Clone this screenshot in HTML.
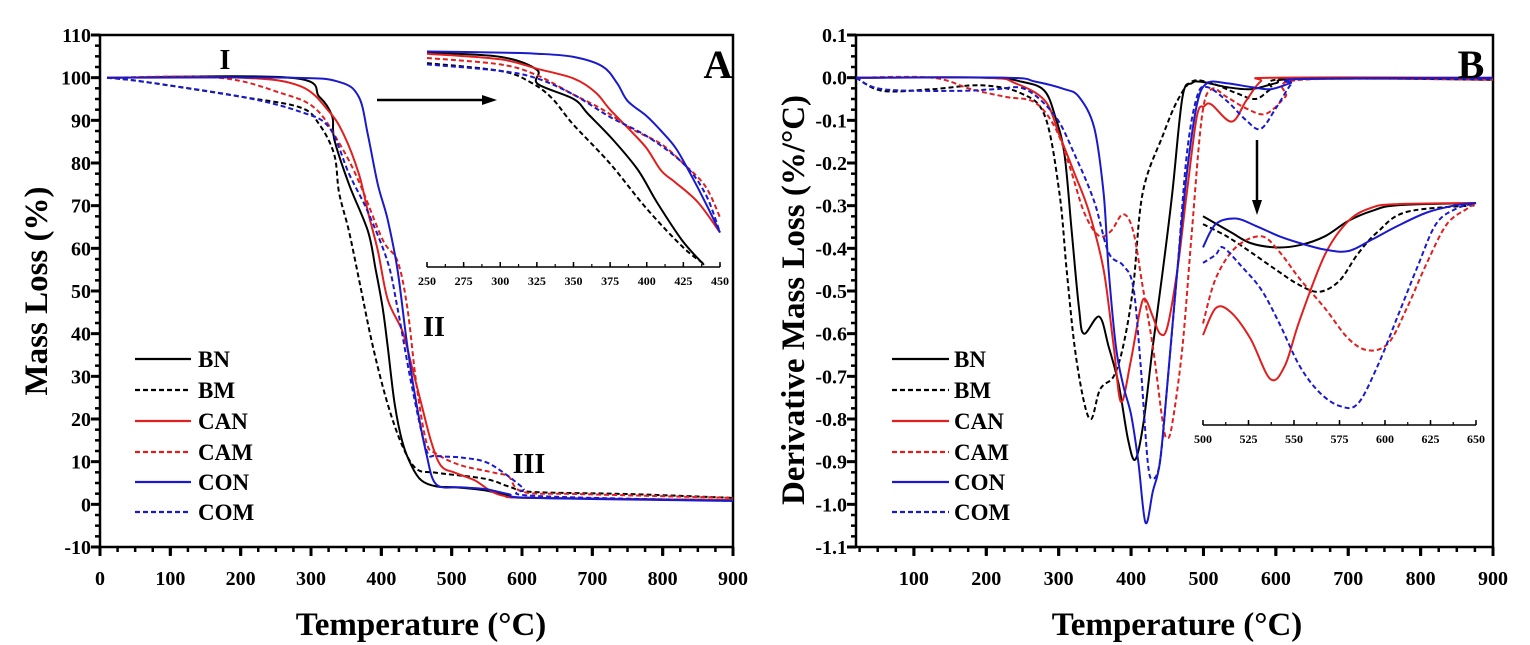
<!DOCTYPE html>
<html><head><meta charset="utf-8"><style>
html,body{margin:0;padding:0;background:#fff;}
svg{display:block;font-family:"Liberation Serif",serif;font-weight:bold;}
</style></head><body>
<svg id="fig" width="1530" height="645" viewBox="0 0 1530 645" xmlns="http://www.w3.org/2000/svg"></svg>
<script>
// ---------- Panel A data (Temperature °C, Mass %) ----------
const aBN_T=[10,271,312,330,333,354,381,392,402,409,419,430,443,457,478,505,547,581,616,900];
const aBN_V=[100,100,95.5,91,85.6,75,64,55,46,37,23.5,14.6,9,5.6,4.2,4,3.3,2,1.5,1];
const aBM_T=[10,64,202,285,312,333,340,354,371,388,409,430,450,478,547,581,616,754,900];
const aBM_V=[100,99,95.5,93,89,82,73,64,50.5,37,23.5,13.7,8.3,7.4,6,4.2,2.9,2.4,1.5];
const aCAN_T=[10,202,285,326,347,368,381,395,409,430,443,457,471,485,505,533,554,574,616,900];
const aCAN_V=[100,100,98,92,86.5,77.5,68.5,59.5,48,40.6,32.5,23.5,14.6,9,7.4,5.6,3.3,2,1.5,1];
const aCAM_T=[10,168,257,306,340,368,402,423,437,450,464,478,512,561,581,602,685,900];
const aCAM_V=[100,100,96.4,92.8,84.7,75.7,62,57,46,28,14.6,11.9,9.2,7.4,6.5,2.9,2.4,1.5];
const aCON_T=[10,271,340,368,381,395,409,423,437,450,464,478,512,547,581,616,900];
const aCON_V=[100,100,99,95.5,86.5,75,66.7,55,37,23.5,11.9,4.7,4,3.6,2.4,1.5,0.8];
const aCOM_T=[10,64,202,285,326,354,381,409,423,443,464,478,512,547,574,602,616,900];
const aCOM_V=[100,99,95.5,92,88.3,77.5,68.5,56.8,46,28,12.8,11.4,11,10,7.4,3.8,2,0.8];
const aTicksX=[0,100,200,300,400,500,600,700,800,900];
const aTicksY=[-10,0,10,20,30,40,50,60,70,80,90,100,110];
// Inset A (relative scale 0..100)
const iaBN_T=[250,300,325,325.5,350,360,377,394,407,424,439];
const iaBN_V=[99.5,97.5,91.5,85,78,71,59,45,30,12.5,1];
const iaBM_T=[250,300,320,335,350,375,400,425,440];
const iaBM_V=[94.6,91,86,78.5,66,48,27,9,1];
const iaCAN_T=[250,300,325,350,365,375,390,400,410,420,435,450];
const iaCAN_V=[99,96.4,92,87.5,81,73,62.5,55,44.6,39,30,16];
const iaCAM_T=[250,300,325,350,370,390,410,425,440,450];
const iaCAM_V=[97,94,89,80,73,64,57,48,37.5,23];
const iaCON_T=[250,300,325,350,370,380,387,400,410,420,430,440,450];
const iaCON_V=[100,99.5,99,97.5,93,85,77,70,63,55,43,30,16];
const iaCOM_T=[250,300,325,350,375,400,425,440,450];
const iaCOM_V=[94,91,87.5,80,69.6,60.7,48,34,16];
const iaTicks=[250,275,300,325,350,375,400,425,450];
// ---------- Panel B data (Temperature °C, DTG %/°C) ----------
const bBN_T=[20,200,250,280,295,308,318,328,335,356,369,383,396,406,417,430,444,457,471,484,498,532,566,600,634,900];
const bBN_V=[0,0,-0.01,-0.03,-0.09,-0.18,-0.36,-0.54,-0.6,-0.56,-0.63,-0.72,-0.85,-0.895,-0.81,-0.63,-0.45,-0.27,-0.045,-0.013,-0.01,-0.022,-0.027,-0.013,-0.003,-0.003];
const bBM_T=[20,57,125,193,247,281,301,311,322,335,345,355,362,376,389,403,416,444,464,484,511,545,572,593,620,900];
const bBM_V=[0,-0.031,-0.027,-0.018,-0.036,-0.09,-0.27,-0.45,-0.63,-0.76,-0.8,-0.74,-0.72,-0.7,-0.63,-0.49,-0.27,-0.135,-0.054,-0.009,-0.013,-0.036,-0.05,-0.027,-0.002,-0.005];
const bCAN_T=[20,200,240,281,301,322,342,362,376,386,399,413,420,430,440,450,464,477,491,501,511,539,559,579,600,900];
const bCAN_V=[0,0,-0.013,-0.054,-0.135,-0.225,-0.315,-0.45,-0.63,-0.76,-0.67,-0.54,-0.52,-0.56,-0.6,-0.585,-0.45,-0.27,-0.09,-0.067,-0.063,-0.103,-0.054,-0.009,0,0];
const bCAM_T=[20,125,179,227,267,295,315,335,355,372,389,403,416,430,444,450,457,471,484,498,511,532,559,586,613,634,900];
const bCAM_V=[0,0,-0.027,-0.045,-0.058,-0.117,-0.207,-0.315,-0.37,-0.36,-0.32,-0.36,-0.49,-0.63,-0.81,-0.845,-0.81,-0.63,-0.36,-0.09,-0.027,-0.045,-0.072,-0.085,-0.045,-0.005,-0.005];
const bCON_T=[20,227,267,308,328,349,362,369,379,389,400,410,420,430,440,450,464,477,491,505,532,566,593,620,640,900];
const bCON_V=[0,0,-0.009,-0.027,-0.045,-0.117,-0.27,-0.45,-0.63,-0.72,-0.79,-0.9,-1.043,-0.97,-0.9,-0.72,-0.45,-0.225,-0.063,-0.013,-0.013,-0.022,-0.027,-0.013,-0.003,0];
const bCOM_T=[20,57,159,213,254,295,322,349,369,389,403,413,423,430,440,450,464,477,491,505,532,559,579,600,620,634,900];
const bCOM_V=[0,-0.027,-0.031,-0.027,-0.027,-0.09,-0.18,-0.29,-0.41,-0.44,-0.49,-0.67,-0.9,-0.94,-0.9,-0.72,-0.45,-0.18,-0.045,-0.022,-0.054,-0.1,-0.12,-0.072,-0.018,-0.003,-0.003];
const bTicksX=[100,200,300,400,500,600,700,800,900];
const bTicksY=[-1.1,-1.0,-0.9,-0.8,-0.7,-0.6,-0.5,-0.4,-0.3,-0.2,-0.1,0.0,0.1];
// Inset B (relative scale 0..100)
const ibBN_T=[500,515,526,540,553,567,580,593,607,650];
const ibBN_V=[94,87,82,80,81,85,92,96.5,99,100];
const ibBM_T=[500,513,526,540,553,564,575,585,596,612,650];
const ibBM_V=[90.5,85,78,70,63,60,65,77,87,96,99];
const ibCAN_T=[500,507,515,526,537,545,553,567,580,593,607,650];
const ibCAN_V=[40.5,52.6,51,39,20.7,26.7,47,76.7,92,98,99.5,100];
const ibCAM_T=[500,507,518,532,542,553,567,580,591,602,612,623,634,645,650];
const ibCAM_V=[45.7,66,80,85,78,66,52.6,38.8,33.6,37,52.6,73,90.5,97.4,100];
const ibCON_T=[500,507,518,529,542,553,567,580,593,607,623,639,650];
const ibCON_V=[80,90.5,93,89.7,85,82,79,78.4,83.6,89.7,95.7,99,100];
const ibCOM_T=[500,507,511,521,532,542,553,564,575,585,596,607,618,628,639,650];
const ibCOM_V=[73,76.7,80,71.6,61,45.7,26.7,14.7,8.6,9.5,26.7,49,71.6,90.5,97.4,100];
const ibTicks=[500,525,550,575,600,625,650];

const legendNames=['BN','BM','CAN','CAM','CON','COM'];
const RED='#e0201e', BLUE='#1a1acc', BLK='#000';
const styles=[[BLK,false],[BLK,true],[RED,false],[RED,true],[BLUE,false],[BLUE,true]];

const NS='http://www.w3.org/2000/svg';
const svg=document.getElementById('fig');
function mk(tag,attrs,parent){const e=document.createElementNS(NS,tag);for(const k in attrs)e.setAttribute(k,attrs[k]);(parent||svg).appendChild(e);return e;}
function lin(d0,d1,r0,r1){return v=>r0+(v-d0)/(d1-d0)*(r1-r0);}
function smoothPath(pts){
  let d='M'+pts[0][0].toFixed(1)+','+pts[0][1].toFixed(1);
  for(let i=0;i<pts.length-1;i++){
    const p0=pts[Math.max(0,i-1)],p1=pts[i],p2=pts[i+1],p3=pts[Math.min(pts.length-1,i+2)];
    const c1=[p1[0]+(p2[0]-p0[0])/6,p1[1]+(p2[1]-p0[1])/6];
    const c2=[p2[0]-(p3[0]-p1[0])/6,p2[1]-(p3[1]-p1[1])/6];
    d+=' C'+c1[0].toFixed(1)+','+c1[1].toFixed(1)+' '+c2[0].toFixed(1)+','+c2[1].toFixed(1)+' '+p2[0].toFixed(1)+','+p2[1].toFixed(1);
  }
  return d;
}
function series(g,X,Y,T,V,st,name){
  const pts=T.map((t,i)=>[X(t),Y(V[i])]);
  const p=mk('path',{d:smoothPath(pts),fill:'none',stroke:st[0],'stroke-width':2,'stroke-dasharray':st[1]?'5,3':'none'},g);
  
  
}
function txt(g,x,y,s,size,anchor,extra){const t=mk('text',Object.assign({x:x,y:y,'font-size':size,'text-anchor':anchor||'middle'},extra||{}),g);t.textContent=s;return t;}

function mainAxes(g,L,R,T,B,X,Y,xt,yt,xMinorStep,yMinorStep,xMin,xMax,yMin,yMax,fmtY){
  const ax=mk('g',{},g);
  
  
  mk('rect',{x:L,y:T,width:R-L,height:B-T,fill:'none',stroke:'#000','stroke-width':2.5},ax);
  for(let v=Math.ceil(xMin/xMinorStep)*xMinorStep;v<=xMax+1e-9;v+=xMinorStep){
    const major=Math.abs(v/100-Math.round(v/100))<1e-6;
    mk('line',{x1:X(v),x2:X(v),y1:B,y2:B+(major?8:5),stroke:'#000','stroke-width':major?3:2.5},ax);
  }
  for(let v=yMin;v<=yMax+1e-9;v+=yMinorStep){
    mk('line',{x1:L,x2:L-5,y1:Y(v),y2:Y(v),stroke:'#000','stroke-width':2.5},ax);
  }
  const xl=mk('g',{},g);
  
  
  xt.forEach(v=>{mk('line',{x1:X(v),x2:X(v),y1:B,y2:B+9,stroke:'#000','stroke-width':3},ax);txt(xl,X(v),B+38,String(v),20);});
  const yl=mk('g',{},g);
  
  
  yt.forEach(v=>{mk('line',{x1:L,x2:L-9,y1:Y(v),y2:Y(v),stroke:'#000','stroke-width':3},ax);txt(yl,L-9,Y(v)+7,fmtY(v),20,'end');});
}
function insetAxis(g,X,y,ticks,minor){
  const ax=mk('g',{},g);
  
  
  mk('line',{x1:X(ticks[0]),x2:X(ticks[ticks.length-1]),y1:y,y2:y,stroke:'#000','stroke-width':1.5},ax);
  for(let v=ticks[0];v<=ticks[ticks.length-1]+1e-9;v+=minor){mk('line',{x1:X(v),x2:X(v),y1:y,y2:y-3,stroke:'#000','stroke-width':1.2},ax);}
  ticks.forEach(v=>{mk('line',{x1:X(v),x2:X(v),y1:y,y2:y-5,stroke:'#000','stroke-width':1.5},ax);txt(ax,X(v),y+18,String(v),12);});
}
function legend(g,x0,x1,tx,ys){
  const lg=mk('g',{},g);
  
  
  legendNames.forEach((n,i)=>{
    const e=mk('g',{},lg);
    
    
    mk('line',{x1:x0,x2:x1,y1:ys[i],y2:ys[i],stroke:styles[i][0],'stroke-width':2.2,'stroke-dasharray':styles[i][1]?'5,3':'none'},e);
    txt(e,tx,ys[i]+8,n,23,'start');
  });
}

// ===== Panel A =====
const gA=mk('g',{});


const XA=lin(0,900,100,733), YA=lin(-10,110,547,35);
mainAxes(gA,100,733,35,547,XA,YA,aTicksX,aTicksY,25,2.5,0,900,-10,110,v=>String(v));
const aT=[aBN_T,aBM_T,aCAN_T,aCAM_T,aCON_T,aCOM_T], aV=[aBN_V,aBM_V,aCAN_V,aCAM_V,aCON_V,aCOM_V];
aT.forEach((t,i)=>series(gA,XA,YA,t,aV[i],styles[i],'curve-a-'+legendNames[i].toLowerCase()));
const XIA=lin(250,450,427,720), YIA=lin(0,100,267,51.5);
insetAxis(gA,XIA,267,iaTicks,12.5);
const iaT=[iaBN_T,iaBM_T,iaCAN_T,iaCAM_T,iaCON_T,iaCOM_T], iaV=[iaBN_V,iaBM_V,iaCAN_V,iaCAM_V,iaCON_V,iaCOM_V];
iaT.forEach((t,i)=>series(gA,XIA,YIA,t,iaV[i],styles[i],'inset-a-curve-'+legendNames[i].toLowerCase()));
legend(gA,135,191,198,[359,390,421,452,482,512]);
const arrA=mk('g',{},gA);


mk('line',{x1:377,y1:100,x2:484,y2:100,stroke:'#000','stroke-width':2.5},arrA);
mk('polygon',{points:'497,100 482,95 482,105',fill:'#000'},arrA);
txt(gA,225,69,'I',28);
txt(gA,434,336,'II',28);
txt(gA,529,473,'III',28);
txt(gA,718,78,'A',40);
txt(gA,421,635,'Temperature (°C)',33);
txt(gA,0,0,'Mass Loss (%)',33,'middle',{transform:'translate(47,291) rotate(-90)'});

// ===== Panel B =====
const gB=mk('g',{});


const XB=lin(20,900,856,1493), YB=lin(-1.1,0.1,547,35);
mainAxes(gB,856,1493,35,547,XB,YB,bTicksX,bTicksY,25,0.025,25,900,-1.1,0.1,v=>v.toFixed(1));
const bT=[bBN_T,bBM_T,bCAN_T,bCAM_T,bCON_T,bCOM_T], bV=[bBN_V,bBM_V,bCAN_V,bCAM_V,bCON_V,bCOM_V];
bT.forEach((t,i)=>series(gB,XB,YB,t,bV[i],styles[i],'curve-b-'+legendNames[i].toLowerCase()));
const XIB=lin(500,650,1203,1476), YIB=lin(0,100,425,203);
insetAxis(gB,XIB,425,ibTicks,12.5);
const ibT=[ibBN_T,ibBM_T,ibCAN_T,ibCAM_T,ibCON_T,ibCOM_T], ibV=[ibBN_V,ibBM_V,ibCAN_V,ibCAM_V,ibCON_V,ibCOM_V];
ibT.forEach((t,i)=>series(gB,XIB,YIB,t,ibV[i],styles[i],'inset-b-curve-'+legendNames[i].toLowerCase()));
legend(gB,892,949,954,[359,390,421,452,482,512]);
const arrB=mk('g',{},gB);


mk('line',{x1:1257,y1:140,x2:1257,y2:202,stroke:'#000','stroke-width':2.5},arrB);
mk('polygon',{points:'1257,215 1252,200 1262,200',fill:'#000'},arrB);
txt(gB,1471,78,'B',40);
txt(gB,1177,635,'Temperature (°C)',33);
txt(gB,0,0,'Derivative Mass Loss (%/°C)',33,'middle',{transform:'translate(804,300) rotate(-90)'});
</script>
</body></html>
